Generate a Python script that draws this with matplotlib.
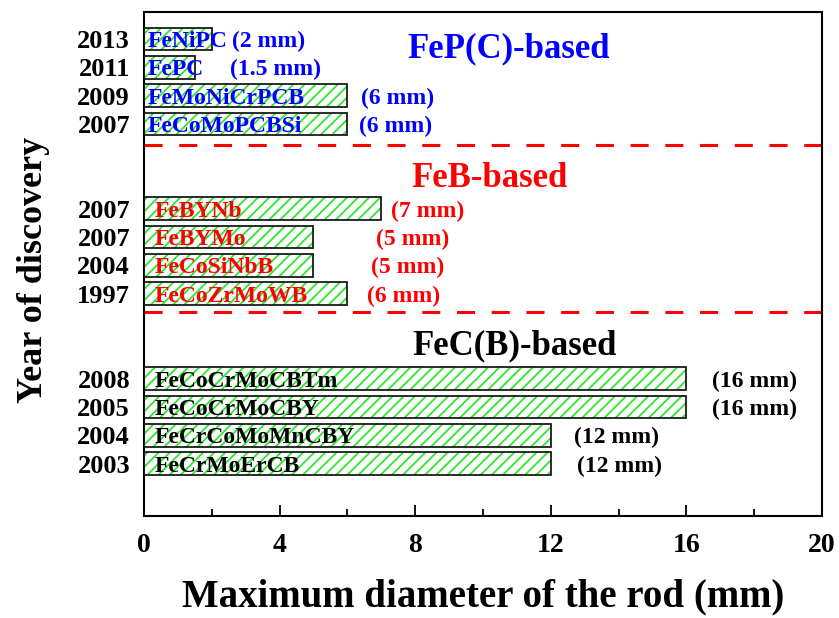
import matplotlib
matplotlib.use("Agg")
import matplotlib.pyplot as plt
from matplotlib.ticker import MultipleLocator

plt.rcParams['font.family'] = ['Liberation Serif', 'DejaVu Serif']
plt.rcParams['font.weight'] = 'bold'
plt.rcParams['hatch.linewidth'] = 1.3
plt.rcParams['lines.scale_dashes'] = False

# Rows listed bottom to top
years = ['2003', '2004', '2005', '2008',
         '1997', '2004', '2007', '2007',
         '2007', '2009', '2011', '2013']
alloys = ['FeCrMoErCB', 'FeCrCoMoMnCBY', 'FeCoCrMoCBY', 'FeCoCrMoCBTm',
          'FeCoZrMoWB', 'FeCoSiNbB', 'FeBYMo', 'FeBYNb',
          'FeCoMoPCBSi', 'FeMoNiCrPCB', 'FePC', 'FeNiPC']
diameters = [12, 12, 16, 16,
             6, 5, 5, 7,
             6, 6, 1.5, 2]
groups = [0, 0, 0, 0, 1, 1, 1, 1, 2, 2, 2, 2]
group_names = ['FeC(B)-based', 'FeB-based', 'FeP(C)-based']
group_colors = ['black', '#ff0000', '#0000ff']

# Row positions: four rows per group, groups separated by a wider gap
ypos = [1.85 + i + 2 * g for i, g in enumerate(groups)]
# Text placement for the annotations
value_label_x = [12.76, 12.7, 16.76, 16.76,
                 6.59, 6.7, 6.85, 7.29,
                 6.35, 6.41, 2.53, 2.59]
name_label_x = [0.3, 0.3, 0.3, 0.3, 0.3, 0.3, 0.3, 0.3, 0.1, 0.1, 0.1, 0.1]
group_label_pos = [(10.94, 6.15), (10.18, 12.05), (10.76, 16.64)]
divider_y = [7.2, 13.1]

fig = plt.figure(figsize=(8.39, 6.18), dpi=100)
ax = fig.add_axes([0.1716, 0.165, 0.9797 - 0.1716, 0.9806 - 0.165])

bar_h = 0.8
ax.barh(ypos, diameters, height=bar_h, color='white', edgecolor='#2ee62e',
        hatch='///', linewidth=0, zorder=2)
ax.barh(ypos, diameters, height=bar_h, fill=False, edgecolor='#1a1a1a',
        linewidth=1.3, zorder=3)

for y, d, name, g, vx, nx in zip(ypos, diameters, alloys, groups,
                                 value_label_x, name_label_x):
    c = group_colors[g]
    ax.text(nx, y, name, color=c, fontsize=17, fontweight='bold',
            ha='left', va='center_baseline', zorder=4)
    lbl = f'({d:g} mm)'
    ax.text(vx, y, lbl, color=c, fontsize=17, fontweight='bold',
            ha='left', va='center_baseline', zorder=4)

for (gx, gy), name, c in zip(group_label_pos, group_names, group_colors):
    ax.text(gx, gy, name, color=c, fontsize=25, fontweight='bold',
            ha='center', va='center_baseline')

for dy in divider_y:
    ax.axhline(dy, color='#ff0000', linewidth=2.2, dashes=(13, 12), zorder=1)

ax.set_xlim(0, 20)
ax.set_ylim(0, 17.8)
ax.xaxis.set_major_locator(MultipleLocator(4))
ax.xaxis.set_minor_locator(MultipleLocator(2))
ax.tick_params(axis='x', which='major', direction='in', length=8, width=1.3,
               labelsize=20, pad=12, top=False)
ax.tick_params(axis='x', which='minor', direction='in', length=5, width=1.3,
               top=False)
ax.set_yticks(ypos)
ax.set_yticklabels(years)
ax.tick_params(axis='y', length=0, labelsize=19, pad=10)
for lab in ax.get_xticklabels() + ax.get_yticklabels():
    lab.set_fontweight('bold')

for s in ax.spines.values():
    s.set_linewidth(1.5)

ax.set_xlabel('Maximum diameter of the rod (mm)', fontsize=28, fontweight='bold')
ax.set_ylabel('Year of discovery', fontsize=26, fontweight='bold')
ax.xaxis.set_label_coords(0.5, -0.123)
ax.yaxis.set_label_coords(-0.139, 0.488)

fig.savefig('out.png', dpi=100)
